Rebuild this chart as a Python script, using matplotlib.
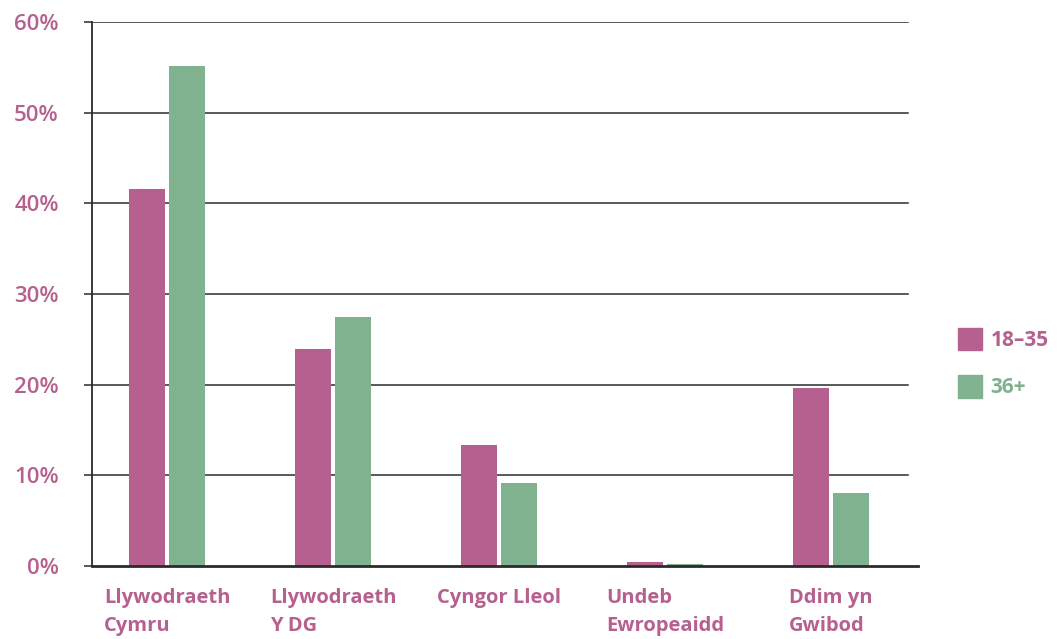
import matplotlib
matplotlib.use("Agg")
import matplotlib.pyplot as plt
import matplotlib.patches as mpatches
import numpy as np

categories = ["Llywodraeth\nCymru", "Llywodraeth\nY DG", "Cyngor Lleol", "Undeb\nEwropeaidd", "Ddim yn\nGwibod"]
series_names = ["18–35", "36+"]
young = [41.6, 23.9, 13.4, 0.4, 19.6]
older = [55.1, 27.5, 9.1, 0.2, 8.1]
yticks = [0, 10, 20, 30, 40, 50, 60]
ytick_labels = ["0%", "10%", "20%", "30%", "40%", "50%", "60%"]

PINK = "#b5608f"
GREEN = "#80b28f"
DARK = "#2b2b2b"

plt.rcParams['font.family'] = ['Open Sans', 'DejaVu Sans']

W, H = 1058, 639
fig = plt.figure(figsize=(W / 100, H / 100), dpi=100)
left, right, top, bottom = 92, 918, 22, 566
ax = fig.add_axes([left / W, (H - bottom) / H, (right - left) / W, (bottom - top) / H])

x = np.arange(len(categories))
unit = 166.0
bw = 36 / unit
off = 20 / unit
ax.bar(x - off, young, width=bw, color=PINK, zorder=3, label=series_names[0])
ax.bar(x + off, older, width=bw, color=GREEN, zorder=3, label=series_names[1])

xl = -75 / unit
xr = xl + (right - left) / unit
ax.set_xlim(xl, xr)
ax.set_ylim(0, 60)

grid_end = (908 - left) / (right - left)
for v in yticks[1:]:
    ax.axhline(v, xmin=0, xmax=grid_end, color=DARK, lw=1.1, zorder=1)

ax.set_yticks(yticks)
ax.set_yticklabels(ytick_labels, fontsize=16, color=PINK, fontweight='semibold')
ax.tick_params(axis='y', length=6, width=1.1, color=DARK, pad=18)

ax.set_xticks(x)
ax.set_xticklabels(categories, fontsize=14.5, color=PINK, fontweight='bold',
                   multialignment='left', linespacing=1.55)
ax.tick_params(axis='x', length=0, pad=16)

for s in ['top', 'right']:
    ax.spines[s].set_visible(False)
ax.spines['left'].set_color(DARK)
ax.spines['left'].set_linewidth(1.3)
ax.spines['bottom'].set_color(DARK)
ax.spines['bottom'].set_linewidth(2)
ax.spines['bottom'].set_zorder(4)

handles = [mpatches.Patch(color=PINK, label=series_names[0]),
           mpatches.Patch(color=GREEN, label=series_names[1])]
leg = fig.legend(handles=handles, loc='center left', bbox_to_anchor=(950 / W, 1 - 363 / H),
                 frameon=False, fontsize=15, handlelength=1.15, handleheight=1.3,
                 handletextpad=0.4, labelspacing=1.15, borderaxespad=0)
for t, c in zip(leg.get_texts(), [PINK, GREEN]):
    t.set_color(c)
    t.set_fontweight('bold')

fig.savefig("out.png", dpi=100)
